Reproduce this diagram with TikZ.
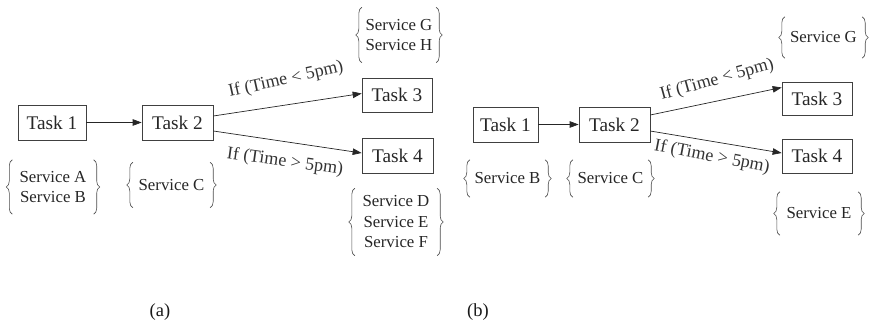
\documentclass[tikz,border=0pt]{standalone}
\usepackage{fontspec}
\setmainfont{Liberation Serif}
\usetikzlibrary{arrows.meta,decorations.pathreplacing,calc}
\tikzset{
  task/.style={draw=black!75, line width=0.7pt, minimum height=35pt, inner sep=0pt,
    font=\fontsize{19.3}{21}\selectfont, text=black!85},
  svc/.style={inner sep=0pt, align=center, font=\fontsize{16.8}{20.5}\selectfont, text=black!85},
  brc/.style={draw=black!70, line width=0.6pt, decorate, decoration={brace, amplitude=6pt}},
  arr/.style={draw=black!85, line width=0.7pt, -{Triangle[length=9pt,width=6.5pt]}},
  lbl/.style={font=\fontsize{18}{20}\selectfont, text=black!80, inner sep=0pt},
  captxt/.style={font=\fontsize{18.5}{20}\selectfont, text=black!90}
}
\newcommand{\bracesaround}[1]{%
  \draw[brc] (#1.south west) -- (#1.north west);
  \draw[brc] (#1.north east) -- (#1.south east);}
\begin{document}
\begin{tikzpicture}[x=1pt,y=-1pt]
\useasboundingbox (0,0) rectangle (871,323);
% ---------- (a)
\node[task, minimum width=68pt] (a1) at (52,122.5) {Task 1};
\node[task, minimum width=71pt] (a2) at (177.5,122.5) {Task 2};
\node[task, minimum width=70pt, minimum height=34pt] (a3) at (397,95) {Task 3};
\node[task, minimum width=71pt] (a4) at (397.5,155.5) {Task 4};
\draw[arr] (a1) -- (a2);
\draw[arr] ([yshift=6.5pt]a2.east) -- ([yshift=1.5pt]a3.west);
\draw[arr] ([yshift=-8.5pt]a2.east) -- ([yshift=2.5pt]a4.west);
\node[lbl, rotate=12.5] (la) at (286,80) {If (Time < 5pm)};
\node[lbl, rotate=-8] (lb) at (285,162) {If (Time > 5pm)};
\node[svc, minimum width=81pt, minimum height=54pt] (sab) at (53,187) {Service A\\Service B};
\bracesaround{sab}
\node[svc, minimum width=77pt, minimum height=45pt] (sc) at (171.5,185) {Service C};
\bracesaround{sc}
\node[svc, minimum width=74pt, minimum height=55pt] (sgh) at (399,35) {Service G\\Service H};
\bracesaround{sgh}
\node[svc, minimum width=82pt, minimum height=67pt] (sdef) at (396,222) {Service D\\Service E\\Service F};
\bracesaround{sdef}
\node[captxt] (capa) at (160,312) {(a)};
% ---------- (b)
\node[task, minimum width=65pt] (b1) at (505.5,124.5) {Task 1};
\node[task, minimum width=71pt] (b2) at (614.5,124.5) {Task 2};
\node[task, minimum width=70pt, minimum height=33pt] (b3) at (817,98.5) {Task 3};
\node[task, minimum width=70pt, minimum height=34pt] (b4) at (817,156) {Task 4};
\draw[arr] (b1) -- (b2);
\draw[arr] ([yshift=9.5pt]b2.east) -- ([yshift=11pt]b3.west);
\draw[arr] ([yshift=-6.5pt]b2.east) -- ([yshift=3pt]b4.west);
\node[lbl, rotate=15.5] (lc) at (717,80) {If (Time < 5pm)};
\node[lbl, rotate=-11] (ld) at (712,157) {If (Time > 5pm)};
\node[svc, minimum width=75pt, minimum height=37pt] (sb) at (507.5,178.5) {Service B};
\bracesaround{sb}
\node[svc, minimum width=75pt, minimum height=37pt] (sc2) at (610.5,178.5) {Service C};
\bracesaround{sc2}
\node[svc, minimum width=77pt, minimum height=41pt] (sg) at (823.5,37.5) {Service G};
\bracesaround{sg}
\node[svc, minimum width=78pt, minimum height=43pt] (se) at (819,213.5) {Service E};
\bracesaround{se}
\node[captxt] (capb) at (478,312) {(b)};
\end{tikzpicture}
\end{document}
